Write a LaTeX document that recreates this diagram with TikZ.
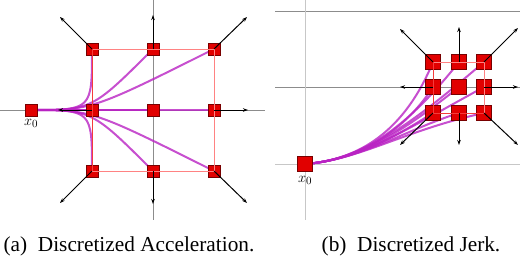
\documentclass[tikz,border=0pt]{standalone}
\usepackage{fontspec}
\setmainfont{Liberation Serif}
\usetikzlibrary{arrows.meta}
\definecolor{nodered}{RGB}{225,0,0}
\definecolor{nodedark}{RGB}{120,0,0}
\definecolor{trajcol}{RGB}{185,35,195}
\definecolor{rectpink}{RGB}{255,130,130}
\definecolor{rectred}{RGB}{245,60,60}
\tikzset{
  sqA/.style={rectangle, minimum size=12pt, inner sep=0pt, fill=nodered, draw=nodedark, line width=0.5pt},
  sqB/.style={rectangle, minimum size=15pt, inner sep=0pt, fill=nodered, draw=nodedark, line width=0.5pt},
  traj/.style={draw=trajcol, line width=2pt, draw opacity=0.8},
  push/.style={-{Stealth[length=5pt,width=3.5pt]}, line width=1pt, black},
  axisdark/.style={draw=black!45, line width=0.9pt},
  axislight/.style={draw=black!22, line width=0.9pt},
  rectline/.style={draw=rectpink, line width=1pt},
  rectedge/.style={draw=rectred, line width=1pt},
  lbl/.style={font=\fontsize{15}{15}\selectfont, inner sep=0pt},
  captext/.style={font=\fontsize{21.3}{23}\selectfont, anchor=base, inner sep=0pt}
}
\begin{document}
\begin{tikzpicture}[x=1pt,y=-1pt]
\useasboundingbox (0,0) rectangle (520,258);
% ---------- panel (a) ----------
\draw[axisdark] (0,110) -- (265,110);
\draw[axisdark] (153,0) -- (153,220);
\coordinate (a0) at (31,110);
\coordinate (a11) at (92,49);  \coordinate (a12) at (153,49);  \coordinate (a13) at (214,49);
\coordinate (a21) at (92,110); \coordinate (a22) at (153,110); \coordinate (a23) at (214,110);
\coordinate (a31) at (92,171); \coordinate (a32) at (153,171); \coordinate (a33) at (214,171);
% trajectories
\foreach \t in {a11,a12,a13,a31,a32,a33}
  \draw[traj] (a0) .. controls (92,110) .. (\t);
\draw[traj] (a0) -- (a21);
\draw[traj] (a0) -- (a22);
\draw[traj] (a0) -- (a23);
% nodes
\node[sqA] (na0) at (a0) {};
\foreach \t in {a11,a12,a13,a21,a22,a23,a31,a32,a33}
  \node[sqA] (n\t) at (\t) {};
\node[lbl, anchor=north] (la) at ([yshift=-3pt]na0.south) {$x_0$};
% rectangle
\draw[rectline] (a11) rectangle (a33);
\draw[rectedge] (a11) -- (a31);
% arrows
\coordinate (ea11) at (60,17);  \coordinate (ea12) at (153,15);  \coordinate (ea13) at (247,17);
\coordinate (ea21) at (58,110); \coordinate (ea23) at (248,110);
\coordinate (ea31) at (60,203); \coordinate (ea32) at (153,204); \coordinate (ea33) at (247,203);
\foreach \t in {a11,a12,a13,a21,a23,a31,a32,a33}
  \draw[push] (n\t.center) -- (e\t);
% ---------- panel (b) ----------
\draw[axisdark] (275,11) -- (520,11);
\draw[axisdark] (275,87) -- (520,87);
\draw[axislight] (275,164) -- (520,164);
\draw[axislight] (305,0) -- (305,220);
\coordinate (b0) at (305,164);
\coordinate (b11) at (433,62);  \coordinate (b12) at (459,62);  \coordinate (b13) at (484,62);
\coordinate (b21) at (433,87);  \coordinate (b22) at (459,87);  \coordinate (b23) at (484,87);
\coordinate (b31) at (433,113); \coordinate (b32) at (459,113); \coordinate (b33) at (484,113);
\foreach \t in {b11,b12,b13,b21,b22,b23,b31,b32,b33}
  \draw[traj] (b0) .. controls (360,160) and (405,130) .. (\t);
\node[sqB] (nb0) at (b0) {};
\foreach \t in {b11,b12,b13,b21,b22,b23,b31,b32,b33}
  \node[sqB] (n\t) at (\t) {};
\node[lbl, anchor=north] (lb) at ([yshift=-4pt]nb0.south) {$x_0$};
\draw[rectline] (b11) rectangle (b33);
\draw[rectedge] (b11) -- (b31) -- (b33);
\coordinate (eb11) at (400,29);  \coordinate (eb12) at (459,27);  \coordinate (eb13) at (518,28);
\coordinate (eb21) at (400,87);  \coordinate (eb23) at (518,87);
\coordinate (eb31) at (400,145); \coordinate (eb32) at (459,145); \coordinate (eb33) at (518,145);
\foreach \t in {b11,b12,b13,b21,b23,b31,b32,b33}
  \draw[push] (n\t.center) -- (e\t);
% captions
\node[captext] (capa) at (129,251) {(a)\ \ Discretized Acceleration.};
\node[captext] (capb) at (411,251) {(b)\ \ Discretized Jerk.};
\end{tikzpicture}
\end{document}
